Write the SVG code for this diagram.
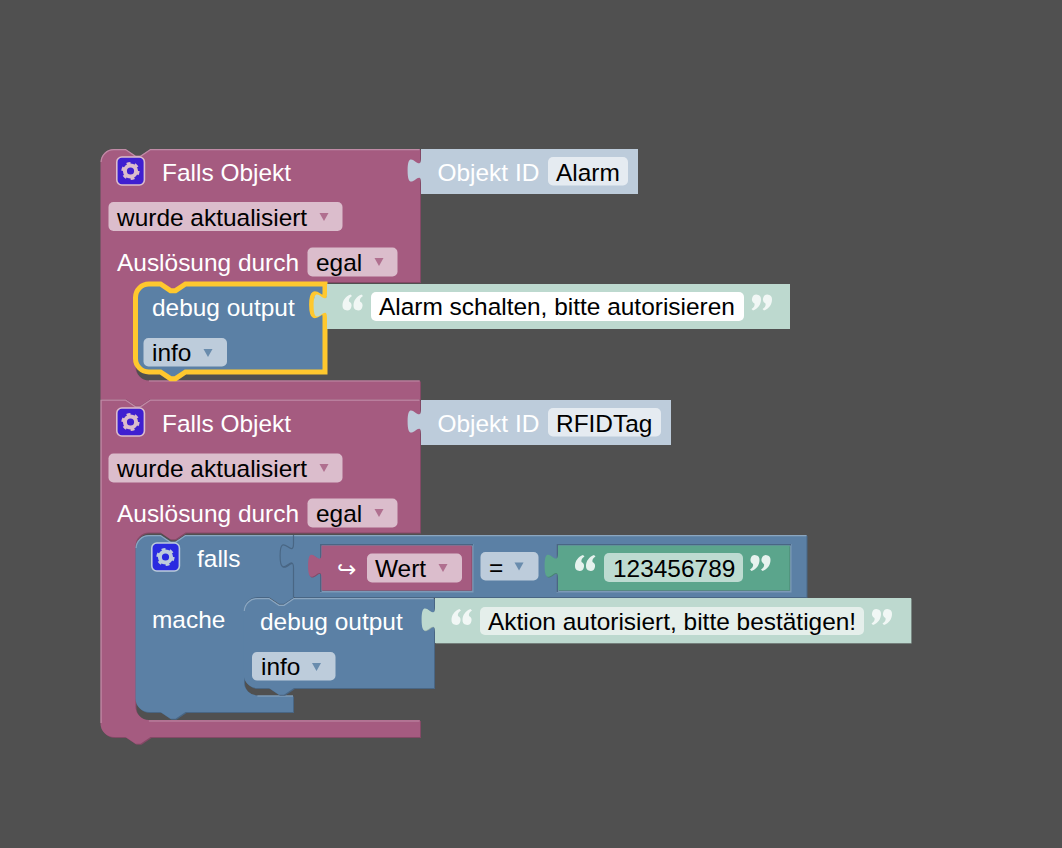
<svg xmlns="http://www.w3.org/2000/svg" width="1062" height="848" viewBox="0 0 1062 848">
<style>
text{font-family:"Liberation Sans",Arial,sans-serif;font-size:24.45px}
.w{fill:#fff}.k{fill:#000}
.pk{fill:#a55b80}.pkd{fill:#844966}.pkl{fill:none;stroke:#c08ba6;stroke-width:1.2}
.bl{fill:#5b80a5}.bld{fill:#496684}.bll{fill:none;stroke:#8ba6c0;stroke-width:1.2}
.gr{fill:#5ba58c}.grd{fill:#498470}
.sb{fill:#bdccdb}
.sg{fill:#bdd9cf}.sgd{fill:#97ada6}
.dp{fill:#dbbdcc}.db{fill:#bdccdb}.dg{fill:#bddbd1}
.fb{fill:#e5ebf1}.fg{fill:#e5efeb}
.tp{fill:#a55b80;fill-opacity:.8}.tb{fill:#5b80a5;fill-opacity:.85}
.q{fill:#fff;fill-opacity:.78}
.q2{fill:#fff;fill-opacity:.85}
.box{stroke-width:1.6}
.inset{fill:#7d9ab8}
.insetd{fill:none;stroke:#496684;stroke-width:1.6}
</style>
<defs>
<polygon id="tri" points="-4.5,0 4.5,0 0,8"/>
<g id="gear" fill="none"><circle r="5.6" stroke-width="4"/><circle r="7.6" stroke-width="3" stroke-dasharray="3.7 4.26"/></g>
<path id="cm" d="M8,0C3,2 0,6 0,11A4.5,4.7 0 1 0 6.5,7C6,5 7,3 9.5,1.5Z"/>
<g id="ql"><use href="#cm"/><use href="#cm" x="11"/></g>
<g id="qr"><use href="#cm" transform="rotate(180 4.75 8)"/><use href="#cm" transform="translate(11 0) rotate(180 4.75 8)"/></g>
<path id="pA" d="M100.5,162.4a13.4,13.4 0 0 1 13.4,-13.4H125.5l10,6.7 5,0 10,-6.7H420V282H185.5l-10,6.7 -5,0 -10,-6.7H148.9a13.4,13.4 0 0 0 -13.4,13.4V367a13.4,13.4 0 0 0 13.4,13.4H420V399H150.5l-10,6.7 -5,0 -10,-6.7H100.5Z"/>
<path id="pB" d="M100.5,399.5H125.5l10,6.7 5,0 10,-6.7H420V532.5H185.5l-10,6.7 -5,0 -10,-6.7H148.9a13.4,13.4 0 0 0 -13.4,13.4V706.6a13.4,13.4 0 0 0 13.4,13.4H420V737H150.5l-10,6.7 -5,0 -10,-6.7H113.9a13.4,13.4 0 0 1 -13.4,-13.4Z"/>
<path id="pF" d="M135.5,548.4a13.4,13.4 0 0 1 13.4,-13.4H160.5l10,6.7 5,0 10,-6.7H293V597H294l-10,6.7 -5,0 -10,-6.7H257.4a13.4,13.4 0 0 0 -13.4,13.4V682a13.4,13.4 0 0 0 13.4,13.4H293V712H185.5l-10,6.7 -5,0 -10,-6.7H148.9a13.4,13.4 0 0 1 -13.4,-13.4Z"/>
<path id="pDB" d="M243.7,611.4a13.4,13.4 0 0 1 13.4,-13.4H269l10,6.7 5,0 10,-6.7H434V688H294l-10,6.7 -5,0 -10,-6.7H257.1a13.4,13.4 0 0 1 -13.4,-13.4Z"/>
<path id="pC" d="M293.5,535H806.5V597H293.5V568.3c0,-16.7 -13.4,13.4 -13.4,-12.5s13.4,4.2 13.4,-12.5Z"/>
<path id="pW" d="M321.5,545.5H471.5V590H321.5V578.3c0,-16.7 -13.4,13.4 -13.4,-12.5s13.4,4.2 13.4,-12.5Z"/>
<path id="pG" d="M558,545.5H789.5V590H558V578.3c0,-16.7 -13.4,13.4 -13.4,-12.5s13.4,4.2 13.4,-12.5Z"/>
<path id="pO1" d="M421,149H638V194H421V183c0,-16.7 -13.4,13.4 -13.4,-12.5s13.4,4.2 13.4,-12.5Z"/>
<path id="pO2" d="M421,400H671V445H421V434c0,-16.7 -13.4,13.4 -13.4,-12.5s13.4,4.2 13.4,-12.5Z"/>
<path id="pT1" d="M327,284H790V329H327V318c0,-16.7 -13.4,13.4 -13.4,-12.5s13.4,4.2 13.4,-12.5Z"/>
<path id="pT2" d="M435,598H911V643H435V632c0,-16.7 -13.4,13.4 -13.4,-12.5s13.4,4.2 13.4,-12.5Z"/>
</defs>
<rect width="1062" height="848" fill="#505050"/>

<g id="event-alarm">
<use href="#pA" class="pkd" transform="translate(1 1)"/>
<use href="#pA" class="pk"/>
<path class="pkl" d="M101.1,162a12.8,12.8 0 0 1 12.8,-12.4H125.5l10,6.7 5,0 10,-6.7H419.5M148.9,381H419.5"/>
<rect class="box" x="116.8" y="157" width="27.6" height="28" rx="5" fill="#3f1fd0" stroke="#dbbdcc"/>
<use href="#gear" x="130.5" y="171" stroke="#dbbdcc"/>
<text class="w" x="162" y="181">Falls Objekt</text>
<rect class="dp" x="108.5" y="202" width="234" height="29" rx="5"/>
<text class="k" x="117" y="226">wurde aktualisiert</text>
<use href="#tri" class="tp" x="324" y="213"/>
<text class="w" x="117" y="271">Auslösung durch</text>
<rect class="dp" x="307.5" y="247.5" width="90" height="29" rx="5"/>
<text class="k" x="316" y="271">egal</text>
<use href="#tri" class="tp" x="379" y="258"/>
</g>
<g id="id-alarm">
<use href="#pO1" class="sb"/>
<text class="w" x="437.5" y="181">Objekt ID</text>
<rect class="fb" x="548" y="157" width="80" height="28.5" rx="5"/>
<text class="k" x="556" y="181">Alarm</text>
</g>
<g id="debug-alarm">
<path class="bl" stroke="#ffc82e" stroke-width="5" d="M135.5,297.4a13.4,13.4 0 0 1 13.4,-13.4H160.5l10,6.7 5,0 10,-6.7H325V292.3c0,16.7 -13.4,-13.4 -13.4,12.5s13.4,-4.2 13.4,12.5V372H185.5l-10,6.7 -5,0 -10,-6.7H148.9a13.4,13.4 0 0 1 -13.4,-13.4Z"/>
<text class="w" x="152" y="316">debug output</text>
<rect class="db" x="143.5" y="338" width="83.5" height="28.5" rx="5"/>
<text class="k" x="152" y="361">info</text>
<use href="#tri" class="tb" x="208" y="349"/>
</g>
<g id="text-alarm">
<use href="#pT1" class="sg"/>
<use href="#ql" class="q" x="342.5" y="294.5"/>
<rect fill="#fff" x="371" y="292" width="373" height="29" rx="5"/>
<text class="k" x="379" y="315">Alarm schalten, bitte autorisieren</text>
<use href="#qr" class="q" x="751.5" y="294.5"/>
</g>

<g id="event-rfid">
<use href="#pB" class="pkd" transform="translate(1 1)"/>
<use href="#pB" class="pk"/>
<path class="pkl" d="M100.5,400.1H125.5l10,6.7 5,0 10,-6.7H419.5M101.1,400V723M148.9,721H419.5"/>
<rect class="box" x="116.8" y="408" width="27.6" height="28" rx="5" fill="#3f1fd0" stroke="#dbbdcc"/>
<use href="#gear" x="130.5" y="422" stroke="#dbbdcc"/>
<text class="w" x="162" y="432">Falls Objekt</text>
<rect class="dp" x="108.5" y="453.5" width="234" height="29" rx="5"/>
<text class="k" x="117" y="477">wurde aktualisiert</text>
<use href="#tri" class="tp" x="324" y="464"/>
<text class="w" x="117" y="522">Auslösung durch</text>
<rect class="dp" x="307.5" y="498.5" width="90" height="29" rx="5"/>
<text class="k" x="316" y="522">egal</text>
<use href="#tri" class="tp" x="379" y="509"/>
</g>
<g id="id-rfid">
<use href="#pO2" class="sb"/>
<text class="w" x="437.5" y="432">Objekt ID</text>
<rect class="fb" x="548" y="408" width="113" height="28.5" rx="5"/>
<text class="k" x="556" y="432">RFIDTag</text>
</g>
<g id="if-block">
<use href="#pF" class="bld" transform="translate(1 1)"/>
<use href="#pF" class="bl"/>
<path class="bll" d="M136.1,548a12.8,12.8 0 0 1 12.8,-12.4H160.5l10,6.7 5,0 10,-6.7H293M257.4,696H293"/>
<rect class="box" x="151.8" y="543" width="27.6" height="28" rx="5" fill="#2a2ae0" stroke="#bdccdb"/>
<use href="#gear" x="165.5" y="557" stroke="#bdccdb"/>
<text class="w" x="197" y="567">falls</text>
<text class="w" x="152" y="628">mache</text>
</g>
<g id="compare">
<use href="#pC" class="bld" transform="translate(1 1)"/>
<use href="#pC" class="bl"/>
<path class="bll" d="M293.5,535.6H806.5"/>
<path fill="none" stroke="#496684" stroke-width="1.2" d="M293.5,535V543.3c0,16.7 -13.4,-13.4 -13.4,12.5s13.4,-4.2 13.4,12.5V597"/>
<rect class="inset" x="320" y="544" width="153.5" height="48.5"/>
<path class="insetd" d="M320.8,592V544.8H473"/>
<rect class="inset" x="556.5" y="544" width="235" height="48.5"/>
<path class="insetd" d="M557.3,592V544.8H791"/>
</g>
<g id="value-wert">
<use href="#pW" class="pkd" transform="translate(.7 .7)"/>
<use href="#pW" class="pk"/>
<text class="w" x="337" y="577" style="font-family:'DejaVu Sans',sans-serif;font-size:23px">↪</text>
<rect class="dp" x="367" y="553.5" width="95" height="29" rx="5"/>
<text class="k" x="375" y="577">Wert</text>
<use href="#tri" class="tp" x="443" y="564"/>
</g>
<g id="operator">
<rect class="db" x="480.5" y="552" width="58" height="28.5" rx="5"/>
<text class="k" x="489" y="576">=</text>
<use href="#tri" class="tb" x="519" y="562.5"/>
</g>
<g id="value-number">
<use href="#pG" class="grd" transform="translate(.7 .7)"/>
<use href="#pG" class="gr"/>
<use href="#ql" class="q2" x="575" y="555"/>
<rect class="dg" x="604" y="553" width="139" height="29" rx="5"/>
<text class="k" x="613" y="577">123456789</text>
<use href="#qr" class="q2" x="750" y="555"/>
</g>
<g id="debug-rfid">
<use href="#pDB" class="bld" transform="translate(1 1)"/>
<use href="#pDB" class="bl"/>
<path class="bll" d="M244.3,611a12.8,12.8 0 0 1 12.8,-12.4H269l10,6.7 5,0 10,-6.7H433.5"/>
<text class="w" x="260" y="630">debug output</text>
<rect class="db" x="252" y="652" width="83.5" height="28.5" rx="5"/>
<text class="k" x="261" y="675">info</text>
<use href="#tri" class="tb" x="316.5" y="663"/>
</g>
<g id="text-rfid">
<use href="#pT2" class="sgd" transform="translate(0.6 0.6)"/>
<use href="#pT2" class="sg"/>
<use href="#ql" class="q" x="451.5" y="609"/>
<rect class="fg" x="480" y="607" width="384" height="28" rx="5"/>
<text class="k" x="488" y="630">Aktion autorisiert, bitte bestätigen!</text>
<use href="#qr" class="q" x="871.5" y="609"/>
</g>
</svg>
